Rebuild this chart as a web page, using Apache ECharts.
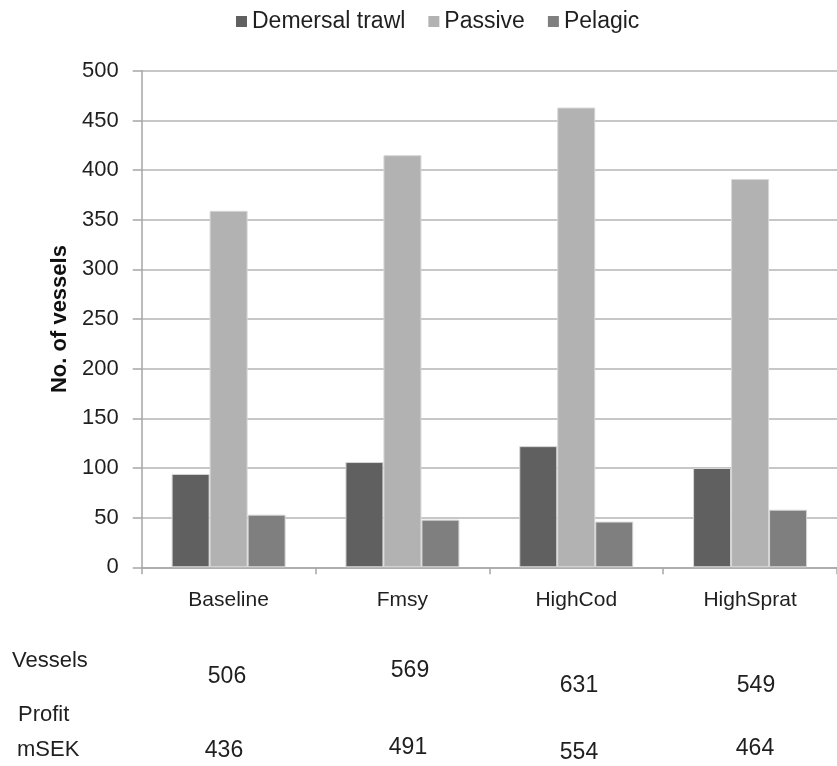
<!DOCTYPE html>
<html>
<head>
<meta charset="utf-8">
<script src="https://cdn.jsdelivr.net/npm/echarts@6/dist/echarts.min.js"></script>
<style>
  html, body { margin: 0; padding: 0; background: #ffffff; }
  #chart { width: 837px; height: 766px; }
</style>
</head>
<body>
<div id="chart"></div>
<script>
// Scenarios and fleet segments
const categories = ['Baseline', 'Fmsy', 'HighCod', 'HighSprat'];
const seriesNames = ['Demersal trawl', 'Passive', 'Pelagic'];

// Number of vessels per segment and scenario
const demersalTrawl = [94, 106, 122, 100];
const passive = [359, 415, 463, 391];
const pelagic = [53, 48, 46, 58];

// Summary rows printed beneath the chart
const vesselTotals = [506, 569, 631, 549];
const profitMSEK = [436, 491, 554, 464];

// Y-axis ticks
const yTicks = [0, 50, 100, 150, 200, 250, 300, 350, 400, 450, 500];

const FONT = '"Liberation Sans", Arial, sans-serif';
const TEXT = '#1f1f1f';
const colors = ['#606060', '#b2b2b2', '#7f7f7f'];

// Placement of the summary numbers (pixel centres)
const vesselPos = [[227, 677], [410, 671], [579, 686], [756, 686]];
const profitPos = [[224, 751], [408, 748], [579, 753], [755, 749]];

const chart = echarts.init(document.getElementById('chart'), null, { renderer: 'canvas' });

const values = [demersalTrawl, passive, pelagic];

const graphicTexts = [];
graphicTexts.push({ type: 'text', left: 12, top: 650, style: { text: 'Vessels', font: '22px ' + FONT, fill: TEXT } });
graphicTexts.push({ type: 'text', left: 18, top: 704, style: { text: 'Profit', font: '22px ' + FONT, fill: TEXT } });
graphicTexts.push({ type: 'text', left: 17, top: 739, style: { text: 'mSEK', font: '22px ' + FONT, fill: TEXT } });
vesselTotals.forEach((v, i) => {
  graphicTexts.push({
    type: 'text', x: vesselPos[i][0], y: vesselPos[i][1],
    style: { text: String(v), font: '23px ' + FONT, fill: TEXT, align: 'center', verticalAlign: 'middle' }
  });
});
profitMSEK.forEach((v, i) => {
  graphicTexts.push({
    type: 'text', x: profitPos[i][0], y: profitPos[i][1],
    style: { text: String(v), font: '23px ' + FONT, fill: TEXT, align: 'center', verticalAlign: 'middle' }
  });
});

chart.setOption({
  animation: false,
  backgroundColor: '#ffffff',
  color: colors,
  textStyle: { fontFamily: FONT },
  legend: {
    data: seriesNames,
    top: 10,
    left: 236,
    padding: 0,
    itemWidth: 11,
    itemHeight: 11,
    itemGap: 23,
    icon: 'rect',
    itemStyle: { borderWidth: 0 },
    textStyle: { fontSize: 23, color: TEXT, fontFamily: FONT, padding: [0, 0, 0, 0] }
  },
  grid: { left: 141.7, right: -5, top: 70.8, bottom: 198.7, containLabel: false },
  xAxis: {
    type: 'category',
    data: categories,
    axisLine: { lineStyle: { color: '#a6a6a6', width: 1.5 } },
    axisTick: { show: true, length: 7, lineStyle: { color: '#a6a6a6', width: 1.5 } },
    axisLabel: { fontSize: 21, color: TEXT, margin: 22, fontFamily: FONT }
  },
  yAxis: {
    type: 'value',
    min: yTicks[0],
    max: yTicks[yTicks.length - 1],
    interval: yTicks[1] - yTicks[0],
    name: 'No. of vessels',
    nameLocation: 'middle',
    nameGap: 70,
    nameRotate: 90,
    nameTextStyle: { fontSize: 22, fontWeight: 'bold', color: '#111111', fontFamily: FONT },
    axisLine: { show: true, lineStyle: { color: '#a6a6a6', width: 1.5 } },
    axisTick: { show: true, length: 9, lineStyle: { color: '#a6a6a6', width: 1.5 } },
    axisLabel: { fontSize: 22, color: TEXT, margin: 23, fontFamily: FONT },
    splitLine: { show: true, lineStyle: { color: '#b4b4b4', width: 1.5 } }
  },
  series: seriesNames.map((name, k) => ({
    name: name,
    type: 'bar',
    data: values[k],
    barWidth: 38,
    barGap: '0%',
    itemStyle: { color: colors[k], borderColor: '#d6d6d6', borderWidth: 1 }
  })),
  graphic: graphicTexts
});
</script>
</body>
</html>
